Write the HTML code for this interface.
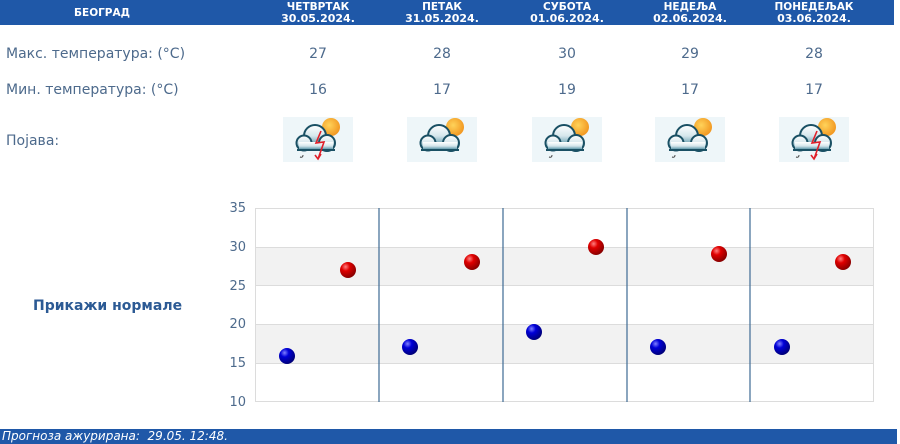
<!DOCTYPE html>
<html><head><meta charset="utf-8">
<style>
*{margin:0;padding:0;box-sizing:border-box}
html,body{width:900px;height:444px;background:#fff;overflow:hidden;font-family:"DejaVu Sans","Liberation Sans",sans-serif}
.abs{position:absolute}
.hdr{left:0;top:0;width:894px;height:25px;background:#1f58a8}
.h{position:absolute;color:#fff;font-weight:bold;font-size:10.5px;text-align:center;width:124px;line-height:12px;white-space:nowrap}
.h b{font-size:11px}
.lbl{position:absolute;left:6px;color:#4d6a8c;font-size:14px;line-height:16px;white-space:nowrap}
.val{position:absolute;width:60px;text-align:center;color:#4d6a8c;font-size:14px;line-height:16px}
.yl{position:absolute;width:32px;text-align:right;left:214px;color:#4d6a8c;font-size:13px;line-height:14px}
.ftr{left:0;top:429px;width:897px;height:15px;background:#1f58a8;color:#fff;font-style:italic;font-size:12px;line-height:15px;padding-left:2px;white-space:pre}
</style></head><body>
<div class="abs hdr"></div>
<div class="h" style="left:40px;top:7px">БЕОГРАД</div>
<div class="h" style="left:256px;top:1px">ЧЕТВРТАК<br><b>30.05.2024.</b></div>
<div class="h" style="left:380px;top:1px">ПЕТАК<br><b>31.05.2024.</b></div>
<div class="h" style="left:505px;top:1px">СУБОТА<br><b>01.06.2024.</b></div>
<div class="h" style="left:628px;top:1px">НЕДЕЉА<br><b>02.06.2024.</b></div>
<div class="h" style="left:752px;top:1px">ПОНЕДЕЉАК<br><b>03.06.2024.</b></div>

<div class="lbl" style="top:46px">Макс. температура: (°C)</div>
<div class="lbl" style="top:82px">Мин. температура: (°C)</div>
<div class="lbl" style="top:133px">Појава:</div>

<div class="val" style="left:288px;top:46px">27</div>
<div class="val" style="left:412px;top:46px">28</div>
<div class="val" style="left:537px;top:46px">30</div>
<div class="val" style="left:660px;top:46px">29</div>
<div class="val" style="left:784px;top:46px">28</div>
<div class="val" style="left:288px;top:82px">16</div>
<div class="val" style="left:412px;top:82px">17</div>
<div class="val" style="left:537px;top:82px">19</div>
<div class="val" style="left:660px;top:82px">17</div>
<div class="val" style="left:784px;top:82px">17</div>

<svg class="abs" style="left:0;top:0" width="900" height="444">
<defs>
<radialGradient id="sun" cx="0.4" cy="0.4" r="0.7"><stop offset="0" stop-color="#ffd35a"/><stop offset="1" stop-color="#f0901a"/></radialGradient>
<linearGradient id="cl" x1="0" y1="0" x2="0" y2="1"><stop offset="0" stop-color="#ffffff"/><stop offset="0.5" stop-color="#d5e6ec"/><stop offset="1" stop-color="#3f8499"/></linearGradient>
<radialGradient id="rb" cx="0.35" cy="0.3" r="0.75"><stop offset="0" stop-color="#ff8080"/><stop offset="0.35" stop-color="#e00000"/><stop offset="1" stop-color="#800000"/></radialGradient>
<radialGradient id="bb" cx="0.35" cy="0.3" r="0.75"><stop offset="0" stop-color="#8080ff"/><stop offset="0.35" stop-color="#0000d8"/><stop offset="1" stop-color="#000070"/></radialGradient>
<g id="cloud">
<circle cx="48" cy="10" r="9" fill="url(#sun)"/>
<g stroke="#1a5064" stroke-width="2" fill="url(#cl)">
<circle cx="32" cy="19" r="11"/>
<circle cx="21" cy="26" r="7.5"/>
<circle cx="44" cy="26" r="8"/>
</g>
<rect x="16" y="25" width="34" height="8" fill="url(#cl)"/>
<line x1="14" y1="33" x2="52" y2="33" stroke="#1a5064" stroke-width="2"/>
</g>
<g id="storm">
<use href="#cloud"/>
<path d="M20 38 q0 3 -3 2" stroke="#444" stroke-width="1" fill="none"/>
<polyline points="38,14 33,26 41,25 35,42" stroke="#e0202a" stroke-width="1.6" fill="none"/>
<polyline points="32,38 35,42 38,37" stroke="#e0202a" stroke-width="1.6" fill="none"/>
</g>
<g id="rain">
<use href="#cloud"/>
<path d="M20 38 q0 3 -3 2" stroke="#444" stroke-width="1" fill="none"/>
</g>
</defs>
<g fill="#eef6f9">
<rect x="283" y="117" width="70" height="45"/>
<rect x="407" y="117" width="70" height="45"/>
<rect x="532" y="117" width="70" height="45"/>
<rect x="655" y="117" width="70" height="45"/>
<rect x="779" y="117" width="70" height="45"/>
</g>
<use href="#storm" x="283" y="117"/>
<use href="#cloud" x="407" y="117"/>
<use href="#rain" x="532" y="117"/>
<use href="#rain" x="655" y="117"/>
<use href="#storm" x="779" y="117"/>

<rect x="255" y="247" width="619" height="39" fill="#f2f2f2"/>
<rect x="255" y="324" width="619" height="39" fill="#f2f2f2"/>
<g stroke="#dcdcdc" stroke-width="1">
<line x1="255" y1="208.5" x2="874" y2="208.5"/>
<line x1="255" y1="247.5" x2="874" y2="247.5"/>
<line x1="255" y1="285.5" x2="874" y2="285.5"/>
<line x1="255" y1="324.5" x2="874" y2="324.5"/>
<line x1="255" y1="363.5" x2="874" y2="363.5"/>
<line x1="255" y1="401.5" x2="874" y2="401.5"/>
<line x1="255.5" y1="208" x2="255.5" y2="402"/>
<line x1="873.5" y1="208" x2="873.5" y2="402"/>
</g>
<g stroke="#3e6a94" stroke-width="1.2">
<line x1="379" y1="208" x2="379" y2="402"/>
<line x1="503" y1="208" x2="503" y2="402"/>
<line x1="627" y1="208" x2="627" y2="402"/>
<line x1="750" y1="208" x2="750" y2="402"/>
</g>
<g>
<circle cx="348" cy="270" r="8" fill="url(#rb)"/>
<circle cx="472" cy="262" r="8" fill="url(#rb)"/>
<circle cx="596" cy="247" r="8" fill="url(#rb)"/>
<circle cx="719" cy="254" r="8" fill="url(#rb)"/>
<circle cx="843" cy="262" r="8" fill="url(#rb)"/>
<circle cx="287" cy="356" r="8" fill="url(#bb)"/>
<circle cx="410" cy="347" r="8" fill="url(#bb)"/>
<circle cx="534" cy="332" r="8" fill="url(#bb)"/>
<circle cx="658" cy="347" r="8" fill="url(#bb)"/>
<circle cx="782" cy="347" r="8" fill="url(#bb)"/>
</g>
</svg>

<div class="yl" style="top:202px">35</div>
<div class="yl" style="top:241px">30</div>
<div class="yl" style="top:280px">25</div>
<div class="yl" style="top:318px">20</div>
<div class="yl" style="top:357px">15</div>
<div class="yl" style="top:396px">10</div>

<div class="abs" style="left:33px;top:297px;color:#2c5a94;font-weight:bold;font-size:14px;line-height:18px;white-space:nowrap">Прикажи нормале</div>

<div class="abs ftr">Прогноза ажурирана:  29.05. 12:48.</div>
</body></html>
